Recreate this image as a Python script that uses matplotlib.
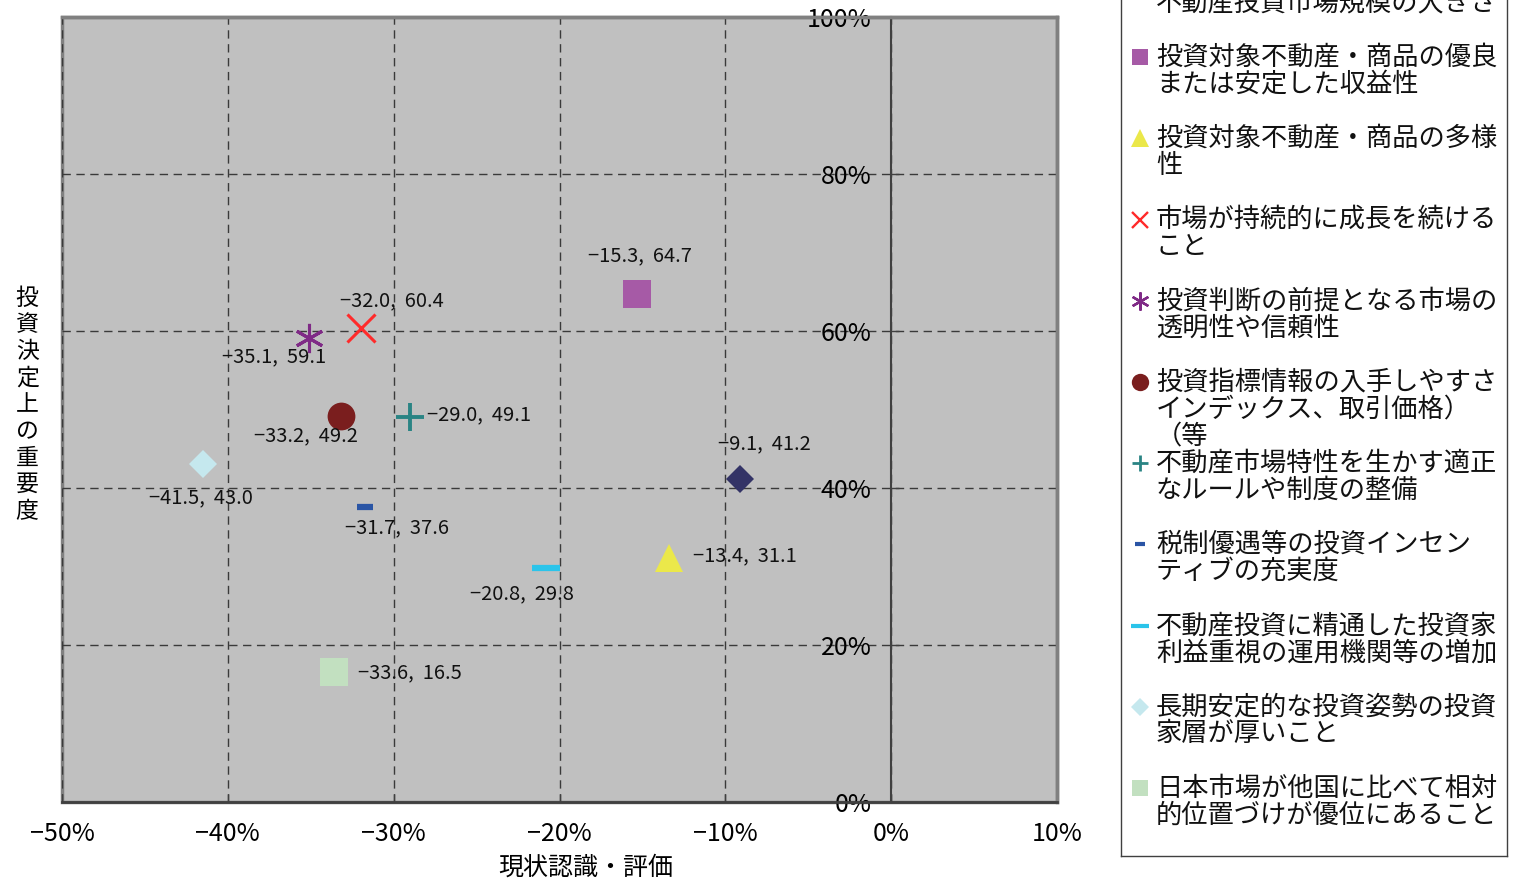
import matplotlib
matplotlib.use("Agg")
import matplotlib.pyplot as plt
from matplotlib.ticker import FuncFormatter, MultipleLocator

plt.rcParams['font.family'] = ['Noto Sans CJK JP', 'DejaVu Sans']

# 項目名（凡例）
items = [
    "\n不動産投資市場規模の大きさ",
    "投資対象不動産・商品の優良\nまたは安定した収益性",
    "投資対象不動産・商品の多様\n性",
    "市場が持続的に成長を続ける\nこと",
    "投資判断の前提となる市場の\n透明性や信頼性",
    "投資指標情報の入手しやすさ\nインデックス、取引価格）\n（等",
    "不動産市場特性を生かす適正\nなルールや制度の整備",
    "税制優遇等の投資インセン\nティブの充実度",
    "不動産投資に精通した投資家\n利益重視の運用機関等の増加",
    "長期安定的な投資姿勢の投資\n家層が厚いこと",
    "日本市場が他国に比べて相対\n的位置づけが優位にあること",
]
# 現状認識・評価 (%)
x_eval = [-9.1, -15.3, -13.4, -32.0, -35.1, -33.2, -29.0, -31.7, -20.8, -41.5, -33.6]
# 投資決定上の重要度 (%)
y_importance = [41.2, 64.7, 31.1, 60.4, 59.1, 49.2, 49.1, 37.6, 29.8, 43.0, 16.5]

# marker, color, size (pt), edge width (pt)
styles = [
    ("D", "#333366", 14, 0),
    ("s", "#A65AA6", 20, 0),
    ("^", "#EBE84A", 20, 0),
    ("x", "#FF2A2A", 20, 2.2),
    ((6, 2, 0), "#7F2A86", 21, 2.2),
    ("o", "#7A1E1E", 20, 0),
    ("+", "#2A8484", 20, 2.8),
    ("_", "#2A55A5", 11, 4.5),
    ("_", "#2BC4EA", 19.5, 4.5),
    ("D", "#C5E8EE", 14, 0),
    ("s", "#C2E0C0", 19.5, 0),
]
# data label offsets in pixels (dx, dy) and alignment
label_pos = [
    (24, 35, "center"),
    (3, 38, "center"),
    (24, 2, "left"),
    (31, 27, "center"),
    (-35, -19, "center"),
    (-35, -20, "center"),
    (17, 2, "left"),
    (32, -21, "center"),
    (-24, -26, "center"),
    (-2, -33, "center"),
    (24, 0, "left"),
]

PX = 72 / 100  # pixels -> points

fig = plt.figure(figsize=(15.17, 8.81), dpi=100)
ax = fig.add_axes([62 / 1517, 79 / 881, 995 / 1517, 785 / 881])
ax.set_facecolor("#C0C0C0")
ax.patch.set_edgecolor("#808080")
ax.patch.set_linewidth(2.5)

for xv, yv, (mk, col, ms, mew), (dx, dy, ha) in zip(x_eval, y_importance, styles, label_pos):
    filled = mk not in ("x", "+", "_") and not isinstance(mk, tuple)
    ax.plot(xv, yv, marker=mk, linestyle="none", markersize=ms,
            color=col, markeredgewidth=mew if not filled else 0, zorder=3)
    txt = f"{xv:.1f},  {yv:.1f}".replace("-", "−")
    ax.annotate(txt, (xv, yv), xytext=(dx * PX, dy * PX), textcoords="offset points",
                ha=ha, va="center", fontsize=14.5, color="#111111", zorder=4)

ax.set_xlim(-50, 10)
ax.set_ylim(0, 100)
ax.xaxis.set_major_locator(MultipleLocator(10))
ax.yaxis.set_major_locator(MultipleLocator(20))
pct = FuncFormatter(lambda v, _: f"{v:.0f}%".replace("-", "−"))
ax.xaxis.set_major_formatter(pct)
ax.yaxis.set_major_formatter(pct)

ax.set_axisbelow(True)
ax.grid(True, linestyle=(0, (6, 4)), color="#3A3A3A", linewidth=1.0)

ax.spines["left"].set_position(("data", 0))
ax.spines["left"].set_color("#404040")
ax.spines["left"].set_linewidth(1.5)
ax.spines["bottom"].set_color("#404040")
ax.spines["bottom"].set_linewidth(2)
for side in ("top", "right"):
    ax.spines[side].set_color("#808080")
    ax.spines[side].set_linewidth(2.5)

ax.tick_params(axis="x", direction="in", length=6, width=1, color="#404040",
               pad=14, labelsize=18)
ax.tick_params(axis="y", direction="in", length=6, width=1, color="#404040",
               pad=14, labelsize=18)

ax.set_xlabel("現状認識・評価", fontsize=18, va="center")
ax.xaxis.set_label_coords(0.526, -0.084)
ax.set_ylabel("\n".join("投資決定上の重要度"), rotation=0, fontsize=16.5,
              va="center", ha="center", linespacing=1.2)
ax.yaxis.set_label_coords(-0.035, 0.506)

# legend panel, laid out in pixel units
lax = fig.add_axes([1121 / 1517, 25 / 881, 386 / 1517, 900 / 881])
lax.set_xlim(0, 386)
lax.set_ylim(856, -44)
lax.set_xticks([])
lax.set_yticks([])
for sp in lax.spines.values():
    sp.set_color("#404040")
    sp.set_linewidth(1)

leg_size = [9.5, 11.5, 13, 12, 13, 12.5, 12, 7, 13, 9.5, 12]
leg_width = [0, 0, 0, 1.7, 1.7, 0, 2.0, 3.0, 3.0, 0, 0]
for i, (label, (mk, col, _, _)) in enumerate(zip(items, styles)):
    y0 = -24 + i * 81.2
    lax.plot(19, y0, marker=mk, linestyle="none", markersize=leg_size[i],
             color=col, markeredgewidth=leg_width[i])
    for j, line in enumerate(label.split("\n")):
        lax.text(35, y0 + j * 27, line, fontsize=18.9, va="center", ha="left",
                 color="#111111")

fig.savefig("out.png", dpi=100)
